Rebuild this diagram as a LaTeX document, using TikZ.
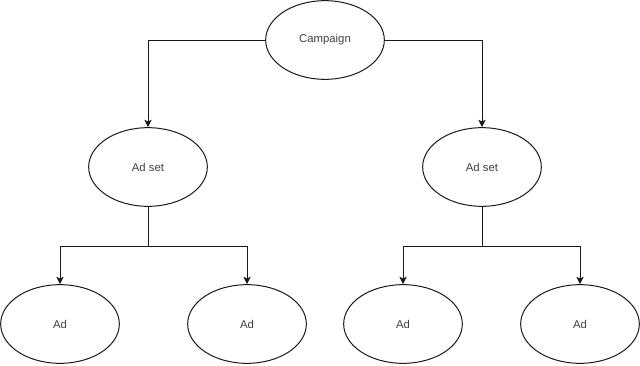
\documentclass[tikz,border=0pt]{standalone}
\usepackage{fontspec}
\setmainfont{Liberation Sans}
\usepackage{tikz}
\usetikzlibrary{arrows.meta,positioning,shapes.geometric}
\tikzset{
  ell/.style={ellipse,draw=black!90,line width=0.75pt,minimum width=89pt,minimum height=59pt,inner sep=0pt,font=\fontsize{8.5}{10}\selectfont,text=black!75},
  arr/.style={-{Stealth[length=5.5pt,width=5.5pt,inset=1.2pt]},draw=black!90,line width=0.75pt},
  lnk/.style={draw=black!90,line width=0.75pt},
}

\begin{document}
\begin{tikzpicture}[x=0.75pt,y=-0.75pt]
  \useasboundingbox (0,0) rectangle (640,365);
  \node[ell] (camp) at (325,40) {Campaign};
  \node[ell] (setl) at (148,167) {Ad set};
  \node[ell] (setr) at (482,167) {Ad set};
  \node[ell] (adl1) at (60,324) {Ad};
  \node[ell] (adl2) at (247,324) {Ad};
  \node[ell] (adr1) at (403,324) {Ad};
  \node[ell] (adr2) at (580,324) {Ad};
  \coordinate (brl) at (148,246);
  \coordinate (brr) at (482,246);
  \draw[arr] (camp.west) -| (setl); \draw[arr] (camp.east) -| (setr);
  \draw[lnk] (setl) -- (brl); \draw[lnk] (setr) -- (brr);
  \draw[arr] (brl) -| (adl1); \draw[arr] (brl) -| (adl2);
  \draw[arr] (brr) -| (adr1); \draw[arr] (brr) -| (adr2);
\end{tikzpicture}
\end{document}
